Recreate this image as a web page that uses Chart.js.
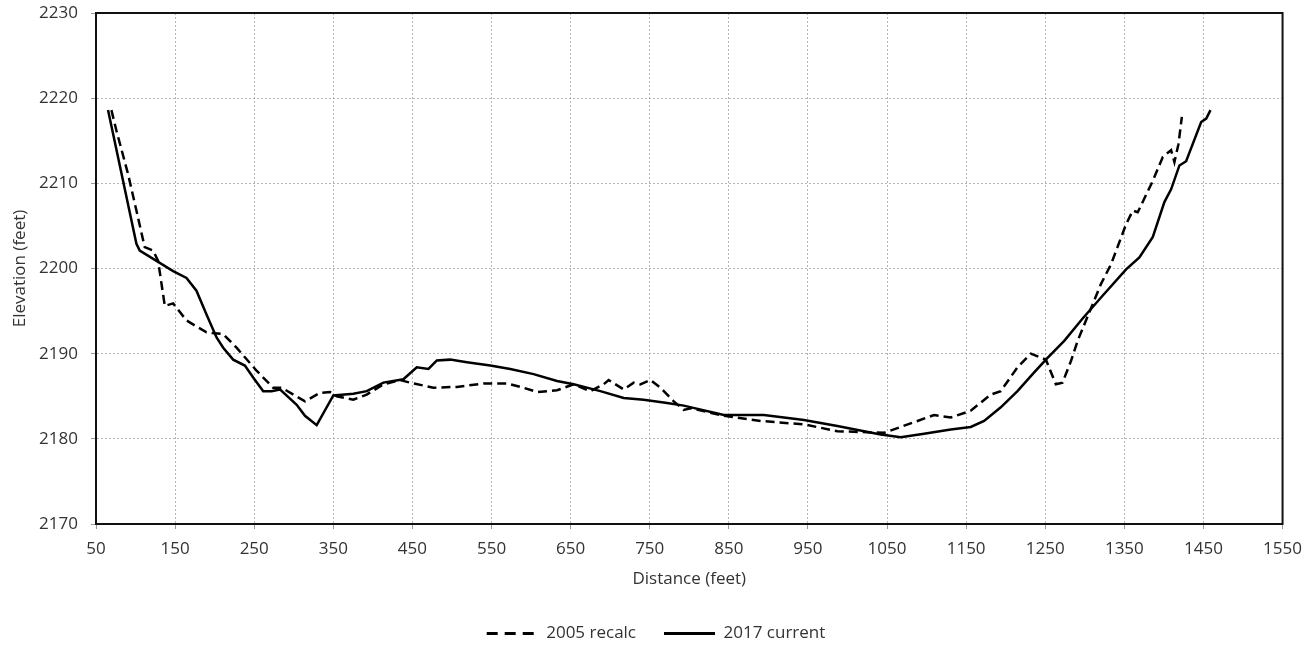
<!DOCTYPE html>
<html>
<head>
<meta charset="utf-8">
<script src="https://cdn.jsdelivr.net/npm/chart.js@4"></script>
<style>
  body { margin: 0; background: #fff; }
  #wrap { width: 1312px; height: 649px; }
</style>
</head>
<body>
<div id="wrap"><canvas id="js--chart"></canvas></div>
<script>
// 2005 recalc cross-section
const dist2005 = [69.5, 75.8, 90.5, 101.1, 111.6, 122.2, 128.5, 137, 147.5, 164.4, 189.7, 210.8, 227.7, 253, 274, 284.7,
  314.2, 333.2, 345.8, 354.3, 375.3, 392.2, 413.3, 434.4, 447, 476.6, 506.2, 540, 569.6, 590.5, 607.5, 632.8, 653.8,
  674.9, 691.8, 698.1, 717.1, 729.7, 738.1, 750.8, 763.5, 780.4, 793, 801.6, 843.7, 890.2, 945, 987.2, 1046.2,
  1088.5, 1109.5, 1130.6, 1155.8, 1181.1, 1193.8, 1214.9, 1231.8, 1250.8, 1263.4, 1271.8, 1282.4, 1290.9, 1320.5,
  1333.2, 1352.2, 1360.6, 1366.9, 1386, 1398.6, 1409.1, 1413.3, 1418.4, 1422.7];
const elev2005 = [2218.6, 2216.2, 2211.1, 2206.8, 2202.5, 2202.1, 2200.9, 2195.6, 2195.9, 2193.9, 2192.5, 2192.3, 2190.7, 2188.0, 2186.0, 2186.0,
  2184.4, 2185.4, 2185.5, 2185.0, 2184.6, 2185.2, 2186.4, 2186.9, 2186.6, 2186.0, 2186.1, 2186.5, 2186.5, 2186.0, 2185.5, 2185.7, 2186.4,
  2185.6, 2186.4, 2186.9, 2185.8, 2186.6, 2186.4, 2186.9, 2186.0, 2184.4, 2183.4, 2183.6, 2182.7, 2182.1, 2181.7, 2180.9, 2180.7,
  2182.1, 2182.8, 2182.5, 2183.3, 2185.2, 2185.6, 2188.4, 2190.0, 2189.3, 2186.4, 2186.6, 2189.1, 2191.5, 2198.2,
  2200.5, 2205.2, 2206.8, 2206.6, 2210.3, 2213.1, 2213.9, 2212.5, 2214.6, 2217.8];

// 2017 current cross-section
const dist2017 = [65.2, 101.1, 105.3, 147.5, 164.4, 177, 189.7, 202.4, 210.8, 223.4, 238.2, 248.7, 261.4, 272, 282.5, 303.7,
  314.2, 329, 350, 375.3, 392.2, 413.3, 438.6, 455.5, 470.3, 480.9, 497.7, 518.9, 548.4, 573.7, 603.2, 632.8, 653.8,
  687.6, 717.1, 742.4, 772, 793, 843.7, 894.3, 945, 987.2, 1042, 1067.3, 1096.8, 1130.5, 1155.8, 1172.7, 1193.8,
  1214.9, 1236, 1252.9, 1274, 1297, 1320.5, 1352.2, 1369, 1386, 1400.6, 1409.1, 1419.6, 1428.1, 1447.1, 1453.5, 1458.9];
const elev2017 = [2218.6, 2202.9, 2202.1, 2199.7, 2198.9, 2197.4, 2194.6, 2191.9, 2190.7, 2189.3, 2188.6, 2187.2, 2185.6, 2185.6, 2185.8, 2184.0,
  2182.7, 2181.6, 2185.1, 2185.3, 2185.6, 2186.6, 2187.0, 2188.4, 2188.2, 2189.2, 2189.3, 2189.0, 2188.6, 2188.2, 2187.6, 2186.8, 2186.4,
  2185.6, 2184.8, 2184.6, 2184.2, 2183.9, 2182.8, 2182.8, 2182.2, 2181.5, 2180.5, 2180.2, 2180.6, 2181.1, 2181.4, 2182.1, 2183.7,
  2185.6, 2187.8, 2189.5, 2191.5, 2194.1, 2196.6, 2199.9, 2201.3, 2203.7, 2207.8, 2209.3, 2212.1, 2212.6, 2217.2, 2217.6, 2218.6];

const xMin = 50, xMax = 1550, xStep = 100;
const yMin = 2170, yMax = 2230, yStep = 10;

function toPoints(xs, ys) {
  return xs.map(function (x, i) { return { x: x, y: ys[i] }; });
}

Chart.defaults.font.family = "'Open Sans', sans-serif";
Chart.defaults.font.size = 17;
Chart.defaults.color = "#333";

// black frame round the plot area
const frame = {
  id: "frame",
  afterDatasetsDraw(chart) {
    const a = chart.chartArea, ctx = chart.ctx;
    ctx.save();
    ctx.strokeStyle = "#111";
    ctx.lineWidth = 2;
    ctx.strokeRect(a.left, a.top, a.right - a.left, a.bottom - a.top);
    ctx.restore();
  }
};

new Chart(document.getElementById("js--chart"), {
  type: "scatter",
  data: {
    datasets: [
      {
        label: "2005 recalc",
        data: toPoints(dist2005, elev2005),
        showLine: true,
        borderColor: "#000",
        backgroundColor: "#000",
        borderWidth: 2.5,
        borderDash: [9, 5],
        pointRadius: 0,
        tension: 0
      },
      {
        label: "2017 current",
        data: toPoints(dist2017, elev2017),
        showLine: true,
        borderColor: "#000",
        backgroundColor: "#000",
        borderWidth: 2.5,
        pointRadius: 0,
        tension: 0
      }
    ]
  },
  options: {
    responsive: true,
    maintainAspectRatio: false,
    animation: false,
    layout: { padding: { left: 0, right: 0, top: 13, bottom: -3 } },
    plugins: {
      legend: {
        position: "bottom",
        labels: {
          usePointStyle: true,
          pointStyle: "line",
          pointStyleWidth: 51,
          padding: 28,
          color: "#333",
          generateLabels(chart) {
            const items = Chart.defaults.plugins.legend.labels.generateLabels(chart);
            items.forEach(function (item) {
              const ds = chart.data.datasets[item.datasetIndex];
              item.lineDash = ds.borderDash ? [11, 7] : [];
              item.lineWidth = 3;
              item.strokeStyle = "#000";
            });
            return items;
          }
        }
      },
      tooltip: { enabled: false }
    },
    scales: {
      x: {
        type: "linear",
        min: xMin,
        max: xMax,
        ticks: { stepSize: xStep, autoSkip: false, padding: 10, maxRotation: 0, callback: v => String(v) },
        grid: { color: "#b4b4b4", lineWidth: 1, tickLength: 5, tickColor: "#999" },
        border: { dash: [2, 2], color: "#111" },
        title: { display: true, text: "Distance (feet)", padding: { top: 0, bottom: 8 } },
        afterFit(scale) { scale.height = 73; }
      },
      y: {
        min: yMin,
        max: yMax,
        ticks: { stepSize: yStep, padding: 13, callback: v => String(v) },
        grid: { color: "#b4b4b4", lineWidth: 1, tickLength: 5, tickColor: "#999" },
        border: { dash: [2, 2], color: "#111" },
        title: { display: true, text: "Elevation (feet)", padding: { top: 10, bottom: 0 } },
        afterFit(scale) { scale.width = 96; scale.paddingTop = 0; scale.paddingBottom = 0; }
      },
      // empty strip on the right so the legend stays centred on the page
      yRight: {
        position: "right",
        display: true,
        ticks: { display: false },
        grid: { display: false, drawTicks: false },
        border: { display: false },
        afterFit(scale) { scale.width = 29; scale.paddingTop = 0; scale.paddingBottom = 0; }
      }
    }
  },
  plugins: [frame]
});
</script>
</body>
</html>
